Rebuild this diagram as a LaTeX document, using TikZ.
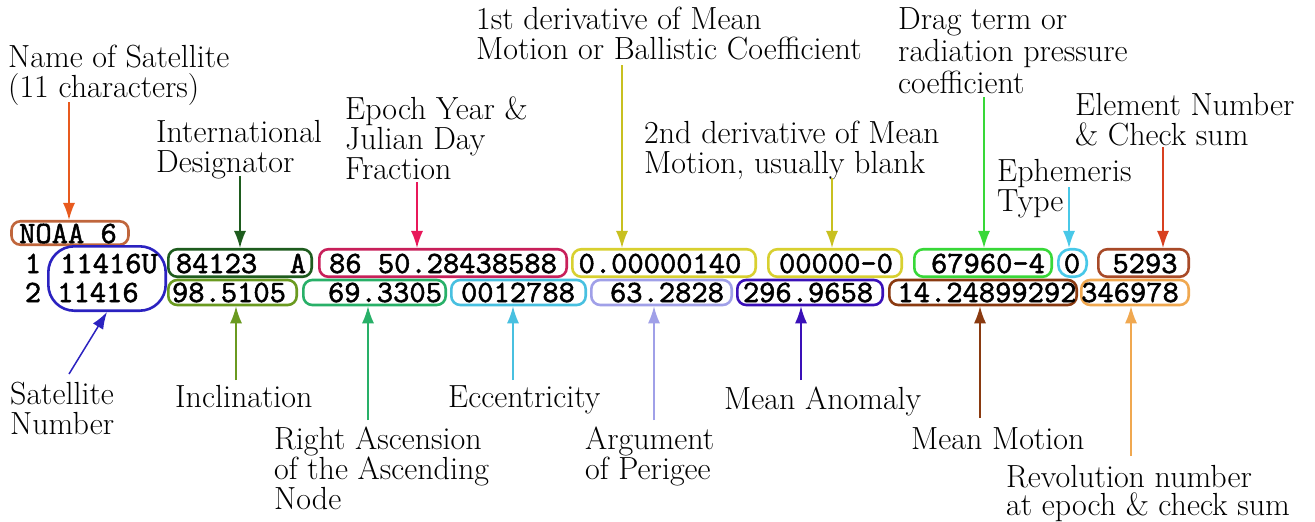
\documentclass[tikz,border=0pt]{standalone}
\usepackage{fontspec}
\newfontfamily\monob{lmmono10-regular}[Extension=.otf, FakeBold=1.6]
\usetikzlibrary{arrows.meta}
\definecolor{cNoaa}{HTML}{C0663C}
\definecolor{cNameA}{HTML}{E85A1E}
\definecolor{cBlue}{HTML}{2B22C0}
\definecolor{cIntl}{HTML}{1E5C1E}
\definecolor{cEpoch}{HTML}{C8205A}
\definecolor{cEpochA}{HTML}{E8185A}
\definecolor{cYel}{HTML}{D8D030}
\definecolor{cYelA}{HTML}{C8C020}
\definecolor{cDrag}{HTML}{38D838}
\definecolor{cEph}{HTML}{48C8E8}
\definecolor{cElem}{HTML}{A84A28}
\definecolor{cElemA}{HTML}{D84020}
\definecolor{cIncl}{HTML}{6A9A20}
\definecolor{cRaan}{HTML}{28B068}
\definecolor{cEcc}{HTML}{48C0E0}
\definecolor{cArgp}{HTML}{A0A0E8}
\definecolor{cMA}{HTML}{3A10B8}
\definecolor{cMM}{HTML}{8A3A10}
\definecolor{cRev}{HTML}{F0A850}
\begin{document}
\begin{tikzpicture}[x=1pt,y=-1pt,
  lab/.style={font=\fontsize{32}{30}\selectfont, align=left, inner sep=0pt, anchor=base west},
  tt/.style={font=\monob\fontsize{31}{32}\selectfont, inner sep=0pt, anchor=base},
  fbox/.style={draw=#1, line width=2.6pt, rounded corners=9pt, inner sep=0pt},
  rowa/.style={minimum height=27.5pt},
  rowb/.style={minimum height=25pt},
  arr/.style={draw=#1, line width=1.5pt, -{Latex[length=17pt,width=12pt]}},
]
\fill[white] (0,0) rectangle (1315,522);
\useasboundingbox (0,0) rectangle (1315,522);

% ---- boxes ----
\node[fbox=cNoaa, minimum width=117pt, minimum height=23.5pt] (noaa) at (70,233) {};
\node[fbox=cBlue, minimum width=117.4pt, minimum height=64.4pt, rounded corners=26pt] (satbox) at (107,278.5) {};
% row 1
\node[fbox=cIntl, rowa, minimum width=143.4pt] (idbox) at (240,263) {};
\node[fbox=cEpoch, rowa, minimum width=247.4pt] (epbox) at (443,263) {};
\node[fbox=cYel, rowa, minimum width=183.4pt] (dibox) at (664,263) {};
\node[fbox=cYel, rowa, minimum width=133.4pt] (ddbox) at (835,263) {};
\node[fbox=cDrag, rowa, minimum width=137.4pt] (dragbox) at (983,263) {};
\node[fbox=cEph, rowa, minimum width=28.4pt, rounded corners=12pt] (ephbox) at (1072.5,263) {};
\node[fbox=cElem, rowa, minimum width=90.4pt] (elembox) at (1143.5,263) {};
% row 2
\node[fbox=cIncl, rowb, minimum width=128.4pt] (inclbox) at (232.5,292.5) {};
\node[fbox=cRaan, rowb, minimum width=142.4pt] (raanbox) at (374.5,292.5) {};
\node[fbox=cEcc, rowb, minimum width=134.4pt] (eccbox) at (518.5,292.5) {};
\node[fbox=cArgp, rowb, minimum width=140.4pt] (argpbox) at (661.5,292.5) {};
\node[fbox=cMA, rowb, minimum width=145.4pt] (mabox) at (810,292.5) {};
\node[fbox=cMM, rowb, minimum width=187.4pt] (mmbox) at (983,292.5) {};
\node[fbox=cRev, rowb, minimum width=107.4pt] (revbox) at (1135,292.5) {};

% ---- data text ----
\node[tt] (tnoaa) at (68,243) {NOAA 6};
\node[tt] (tone) at (33,273) {1};
\node[tt] (ttwo) at (33,302) {2};
\node[tt] (tsat1) at (109,273) {11416U};
\node[tt] (tsat2) at (98,302) {11416};
\node[tt] (tid) at (241,273) {84123\ \ A};
\node[tt] (tep) at (443,273) {86 50.28438588};
\node[tt] (tdi) at (660,273) {0.00000140};
\node[tt] (tdd) at (836,273) {00000-0};
\node[tt] (tdrag) at (988,273) {67960-4};
\node[tt] (teph) at (1072,273) {0};
\node[tt] (telem) at (1145,273) {5293};
\node[tt] (tincl) at (229,302) {98.5105};
\node[tt] (traan) at (385,302) {69.3305};
\node[tt] (tecc) at (518,302) {0012788};
\node[tt] (targp) at (667,302) {63.2828};
\node[tt] (tma) at (808,302) {296.9658};
\node[tt] (tmm) at (987,302) {14.24899292};
\node[tt] (trev) at (1130,302) {346978};

% ---- labels (anchored at the baseline of the last line) ----
\node[lab] (lname) at (8,97) {Name of Satellite\\(11 characters)};
\node[lab] (lintl) at (156,172) {International\\Designator};
\node[lab] (lepoch) at (345,179) {Epoch Year \&\\Julian Day\\Fraction};
\node[lab] (ldi) at (476,59) {1st derivative of Mean\\Motion or Ballistic Coefficient};
\node[lab] (ldd) at (644,173) {2nd derivative of Mean\\Motion, usually blank};
\node[lab, font=\fontsize{32}{32}\selectfont] (ldrag) at (898,93) {Drag term or\\radiation pressure\\coefficient};
\node[lab] (lelem) at (1075,145) {Element Number\\\& Check sum};
\node[lab] (leph) at (997,211) {Ephemeris\\Type};
\node[lab] (lsat) at (10,434) {Satellite\\Number};
\node[lab] (lincl) at (175,407) {Inclination};
\node[lab] (lraan) at (274,509) {Right Ascension\\of the Ascending\\Node};
\node[lab] (lecc) at (448,407) {Eccentricity};
\node[lab] (largp) at (585,479) {Argument\\of Perigee};
\node[lab] (lma) at (724,409) {Mean Anomaly};
\node[lab] (lmm) at (911,449) {Mean Motion};
\node[lab, font=\fontsize{32}{28}\selectfont] (lrev) at (1006,515) {Revolution number\\at epoch \& check sum};

% ---- arrow start points ----
\coordinate (aname) at (69,102);
\coordinate (aintl) at (240,176);
\coordinate (aepoch) at (417,182);
\coordinate (adi) at (622,65);
\coordinate (add) at (832,178);
\coordinate (adrag) at (984,97);
\coordinate (aeph) at (1069,187);
\coordinate (aelem) at (1163,147);
\coordinate (asat) at (69,374);
\coordinate (aincl) at (236,380);
\coordinate (araan) at (368,420);
\coordinate (aecc) at (513,380);
\coordinate (aargp) at (654,420);
\coordinate (ama) at (801,380);
\coordinate (amm) at (980,418);
\coordinate (arev) at (1131,456);

% ---- arrows ----
\draw[arr=cNameA] (aname) -- (aname |- noaa.north);
\draw[arr=cIntl] (aintl) -- (aintl |- idbox.north);
\draw[arr=cEpochA] (aepoch) -- (aepoch |- epbox.north);
\draw[arr=cYelA] (adi) -- (adi |- dibox.north);
\draw[arr=cYelA] (add) -- (add |- ddbox.north);
\draw[arr=cDrag] (adrag) -- (adrag |- dragbox.north);
\draw[arr=cEph] (aeph) -- (aeph |- ephbox.north);
\draw[arr=cElemA] (aelem) -- (aelem |- elembox.north);
\draw[arr=cBlue] (asat) -- (satbox.south);
\draw[arr=cIncl] (aincl) -- (aincl |- inclbox.south);
\draw[arr=cRaan] (araan) -- (araan |- raanbox.south);
\draw[arr=cEcc] (aecc) -- (aecc |- eccbox.south);
\draw[arr=cArgp] (aargp) -- (aargp |- argpbox.south);
\draw[arr=cMA] (ama) -- (ama |- mabox.south);
\draw[arr=cMM] (amm) -- (amm |- mmbox.south);
\draw[arr=cRev] (arev) -- (arev |- revbox.south);
\end{tikzpicture}
\end{document}
